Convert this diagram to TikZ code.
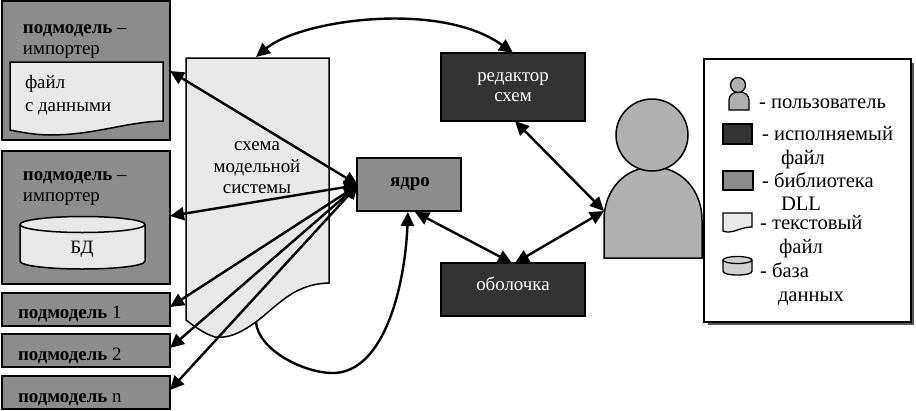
\documentclass[tikz,border=0pt]{standalone}
\usepackage{fontspec}
\setmainfont{Liberation Serif}
\usetikzlibrary{arrows.meta,shapes.geometric}
\definecolor{libgray}{HTML}{8C8C8C}
\definecolor{exegray}{HTML}{333333}
\definecolor{paper}{HTML}{E8E8E8}
\definecolor{person}{HTML}{B0B0B0}
\tikzset{
  every node/.style={inner sep=0pt,outer sep=0pt,font=\fontsize{18.9}{22}\selectfont},
  block/.style={draw=black,line width=1.5pt,anchor=north west,rectangle},
  lib/.style={block,fill=libgray},
  exe/.style={block,fill=exegray},
  txt/.style={anchor=base west},
  ctr/.style={anchor=base},
  legendtxt/.style={anchor=base west,font=\fontsize{20.6}{24}\selectfont},
  shape line/.style={draw=black,line width=1.5pt},
  small line/.style={draw=black,line width=1.3pt},
  link/.style={line width=2.4pt,{Triangle[length=14pt,width=13pt]}-{Triangle[length=14pt,width=13pt]}},
  linkone/.style={line width=2.4pt,-{Triangle[length=14pt,width=13pt]}}
}
\begin{document}
\begin{tikzpicture}[x=1pt,y=-1pt]
\useasboundingbox (0,0) rectangle (916,410);
\fill[white] (0,0) rectangle (916,410);
% left column
\node[lib,minimum width=168pt,minimum height=139pt] (subA) at (2,1) {};
\node[lib,minimum width=168pt,minimum height=133pt] (subB) at (2,151) {};
\node[lib,minimum width=168pt,minimum height=33pt] (sub1) at (2,293) {};
\node[lib,minimum width=168pt,minimum height=33pt] (sub2) at (2,334) {};
\node[lib,minimum width=168pt,minimum height=33pt] (subn) at (2,376) {};
% inner file
\draw[shape line,fill=paper] (10,62) -- (163,62) -- (163,121) .. controls (125,122) and (95,135) .. (50,135) .. controls (35,135) and (20,132) .. (10,130) -- cycle;
% inner cylinder
\draw[shape line,fill=paper] (20,224) -- (20,261) .. controls (20,266) and (50,269) .. (82,269) .. controls (115,269) and (145,266) .. (145,261) -- (145,224);
\draw[shape line,fill=paper] (82.5,224.5) ellipse [x radius=62.5,y radius=8];
% schema
\draw[shape line,fill=paper] (186,58) -- (329,58) -- (329,283) .. controls (290,284) and (275,310) .. (250,326) .. controls (235,336) and (225,338) .. (215,337) .. controls (205,334) and (195,327) .. (186,320) -- cycle;
% main blocks
\node[lib,minimum width=104pt,minimum height=53pt] (core) at (357,158) {};
\node[exe,minimum width=144pt,minimum height=68pt] (editor) at (441,53) {};
\node[exe,minimum width=144pt,minimum height=53pt] (shell) at (441,263) {};
% user
\draw[shape line,fill=person] (604,258) -- (604,220) .. controls (604,190) and (625,167) .. (653,167) .. controls (681,167) and (702,190) .. (702,220) -- (702,258) -- cycle;
\node[circle,draw=black,line width=1.5pt,fill=person,minimum size=72pt] (head) at (652,135) {};
% ports
\coordinate (schemaTop) at (256,57);
\coordinate (schemaFoot) at (256,322);
\coordinate (userPort) at (604,211);
\coordinate (coreL) at (358,185);
% connectors
\draw[link] (schemaTop) .. controls (300,20) and (440,0) .. (editor.north |- 0,53);
\draw[link] (subA.east |- 0,71) -- (coreL);
\draw[link] (subB.east |- 0,216) -- (coreL);
\draw[link] (sub1.east |- 0,307) -- (coreL);
\draw[link] (sub2.east |- 0,348) -- (coreL);
\draw[link] (subn.east |- 0,390) -- (coreL);
\draw[linkone] (schemaFoot) .. controls (258,350) and (305,374) .. (335,373) .. controls (385,370) and (405,285) .. (408,212);
\draw[link] (415,212) -- (512,263);
\draw[link] (515,263) -- (userPort);
\draw[link] (515,121) -- (userPort);
% texts
\node[txt] (tA) at (23,33) {\textbf{подмодель} –};
\node[txt] (tB) at (23,54) {импортер};
\node[txt] (tC) at (25,88) {файл};
\node[txt] (tD) at (25,111) {с данными};
\node[txt] (tE) at (23,180) {\textbf{подмодель} –};
\node[txt] (tF) at (23,201) {импортер};
\node[ctr] (tG) at (82,253) {БД};
\node[txt] (tH) at (18,318) {\textbf{подмодель} 1};
\node[txt] (tI) at (18,360) {\textbf{подмодель} 2};
\node[txt] (tJ) at (18,402) {\textbf{подмодель} n};
\node[ctr] (tK) at (257,150) {схема};
\node[ctr] (tL) at (257,172) {модельной};
\node[ctr] (tM) at (257,193) {системы};
\node[ctr] (tN) at (410,186) {\textbf{ядро}};
\node[ctr,text=white] (tO) at (513,81) {редактор};
\node[ctr,text=white] (tP) at (513,101) {схем};
\node[ctr,text=white] (tQ) at (513,290) {оболочка};
% legend
\fill[black!65] (708,63) rectangle (914,325);
\node[block,fill=white,minimum width=207pt,minimum height=263pt] (legend) at (704,59) {};
\draw[small line,fill=person] (729,110) -- (729,100) .. controls (729,95) and (733,92) .. (739,92) .. controls (745,92) and (749,95) .. (749,100) -- (749,110) -- cycle;
\node[circle,small line,fill=person,minimum size=15pt] (lhead) at (738,85) {};
\node[block,line width=1.3pt,fill=exegray,minimum width=29pt,minimum height=20pt] (lexe) at (723,124) {};
\node[block,line width=1.3pt,fill=libgray,minimum width=30pt,minimum height=19pt] (llib) at (723,171) {};
\draw[small line,fill=paper] (723,213) -- (752,213) -- (752,227) .. controls (742,227) and (735,232) .. (729,232) .. controls (727,232) and (725,232) .. (723,231) -- cycle;
\draw[small line,fill=paper!90!black] (723,260) -- (723,271) .. controls (723,274) and (730,275) .. (737.5,275) .. controls (745,275) and (752,274) .. (752,271) -- (752,260);
\draw[small line,fill=paper!90!black] (737.5,260) ellipse [x radius=14.5,y radius=3.5];
\node[legendtxt] (l1) at (759,108) {- пользователь};
\node[legendtxt] (l2) at (762,140) {- исполняемый};
\node[legendtxt] (l3) at (781,164) {файл};
\node[legendtxt] (l4) at (762,187) {- библиотека};
\node[legendtxt] (l5) at (781,210) {DLL};
\node[legendtxt] (l6) at (760,229) {- текстовый};
\node[legendtxt] (l7) at (779,253) {файл};
\node[legendtxt] (l8) at (760,277) {- база};
\node[legendtxt] (l9) at (778,301) {данных};
\end{tikzpicture}
\end{document}
